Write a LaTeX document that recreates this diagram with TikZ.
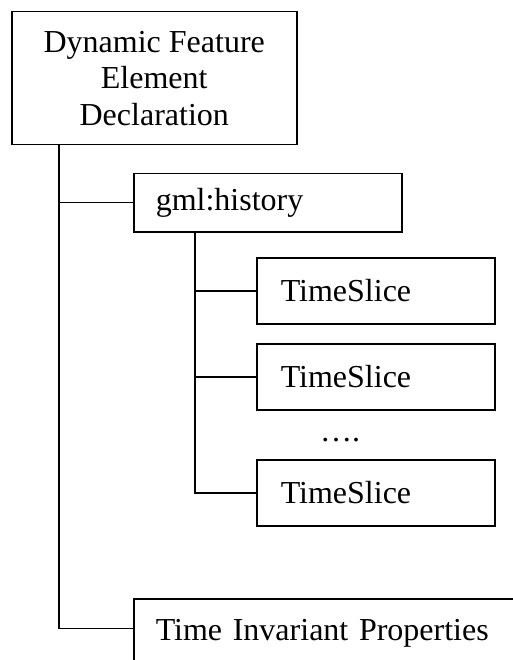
\documentclass[tikz,border=0pt]{standalone}
\usepackage{fontspec}
\setmainfont{Liberation Serif}
\usepackage{tikz}
\usetikzlibrary{calc}

\begin{document}
\begin{tikzpicture}[x=1pt, y=-1pt, line width=1.5pt,
	every node/.style={rectangle, draw, inner ysep=0pt, font=\fontsize{32pt}{36.5pt}\selectfont}]
	\useasboundingbox (0,0) rectangle (513,660);
	\clip (0,0) rectangle (513,660);

	\begin{scope}[every node/.style={rectangle, draw, inner ysep=0pt, anchor=north west, align=left, font=\fontsize{32pt}{36.5pt}\selectfont}]
		\node[minimum width=285pt, minimum height=133pt, align=center, inner xsep=0pt] (1) at (11,11) {Dynamic Feature\\Element\\Declaration};
		\node[minimum width=268pt, minimum height=58pt, inner xsep=22pt, text width=224pt] (2) at (133,173) {gml:history};
		\node[minimum width=238pt, minimum height=66pt, inner xsep=24pt, text width=190pt] (3) at (256,257) {TimeSlice};
		\node[minimum width=238pt, minimum height=66pt, inner xsep=24pt, text width=190pt] (4) at (256,343) {TimeSlice};
		\node[minimum width=238pt, minimum height=66pt, inner xsep=24pt, text width=190pt] (5) at (256,459) {TimeSlice};
		\node[anchor=base west, inner xsep=22pt, text height=41pt, text depth=50pt, text width=400pt] (6) at (133,640) {Time Invariant Properties};
	\end{scope}
	\node[draw=none, anchor=base] (7) at (340,441) {….};

	\coordinate (t1) at ([xshift=48pt]1.south west);
	\coordinate (t2) at ([xshift=62pt]2.south west);
	\coordinate (j6) at ([yshift=-30pt]6.north west);

	\begin{scope}[every edge/.style={draw=black},
	              elbow/.style={to path={|- (\tikztotarget)}}]
		\path (t1) edge[elbow] (j6);
		\path (t1 |- 2.west) edge (2.west);
		\path (t2) edge[elbow] (5.west);
		\path (t2 |- 3.west) edge (3.west);
		\path (t2 |- 4.west) edge (4.west);
	\end{scope}
\end{tikzpicture}
\end{document}
